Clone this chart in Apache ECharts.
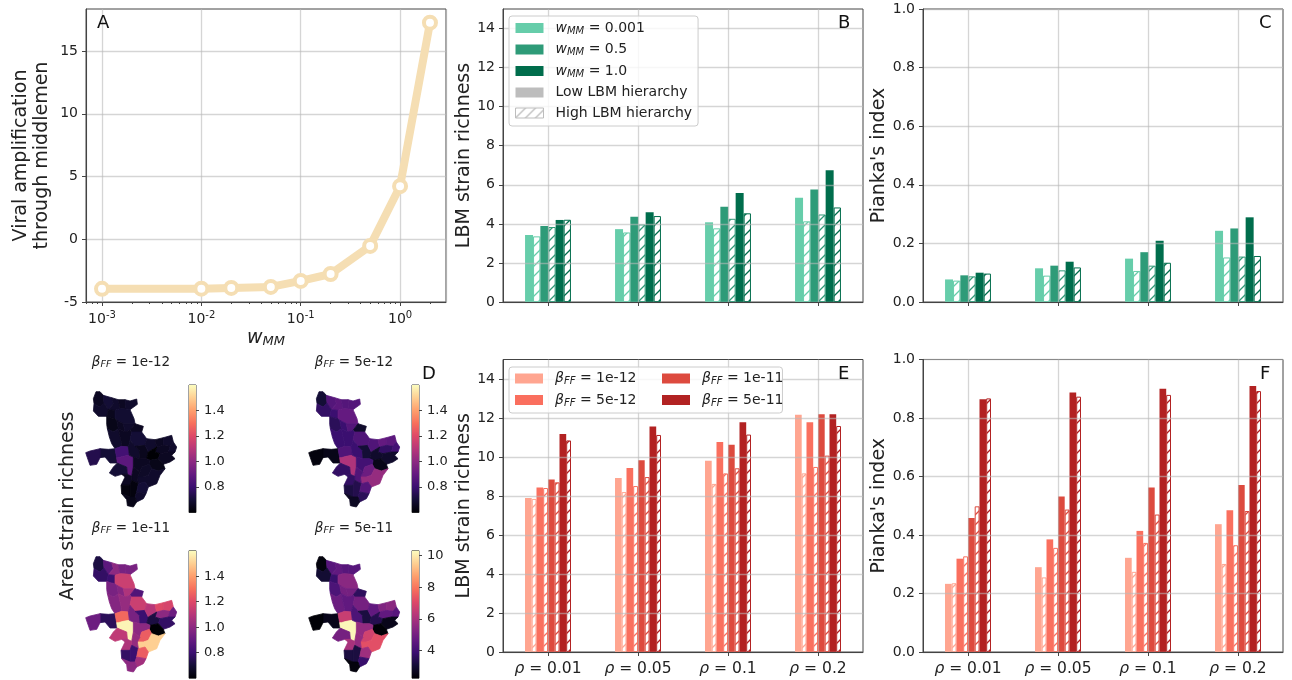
<!DOCTYPE html>
<html><head><meta charset="utf-8">
<style>html,body{margin:0;padding:0;background:#fff}#c{width:1292px;height:680px}</style>
<script src="https://cdn.jsdelivr.net/npm/echarts@6/dist/echarts.min.js"></script>
</head><body><div id="c"></div>
<script>
// ---------- data ----------
const wmmValues = [0.001,0.01,0.02,0.05,0.1,0.2,0.5,1,2];
const amplification = [-3.95,-3.94,-3.88,-3.8,-3.32,-2.77,-0.53,4.23,17.26];
const rhoLabels = ['0.01','0.05','0.1','0.2'];
const wmmNames = ['0.001','0.5','1.0'];
const betaNames = ['1e-12','5e-12','1e-11','5e-11'];

const richLow_B  = [[3.43,3.73,4.08,5.34],[3.89,4.37,4.88,5.76],[4.2,4.59,5.58,6.74]];
const richHigh_B = [[3.36,3.56,3.77,4.13],[3.84,3.97,4.26,4.48],[4.21,4.4,4.54,4.84]];
const piankaLow_C  = [[.077,.115,.148,.243],[.091,.124,.17,.251],[.1,.1375,.209,.289]];
const piankaHigh_C = [[.073,.09,.106,.152],[.0875,.108,.124,.155],[.097,.118,.134,.157]];
const richLow_E  = [[7.9,8.92,9.81,12.17],[8.43,9.44,10.77,11.78],[8.85,9.83,10.63,12.19],[11.18,11.57,11.78,12.19]];
const richHigh_E = [[7.85,8.2,8.62,9.16],[8.41,8.51,9.16,9.49],[8.7,8.97,9.42,10.07],[10.85,11.13,11.15,11.59]];
const piankaLow_F  = [[.233,.29,.322,.437],[.319,.385,.414,.485],[.458,.532,.562,.571],[.864,.887,.9,.909]];
const piankaHigh_F = [[.235,.255,.274,.301],[.327,.356,.373,.365],[.498,.487,.47,.482],[.867,.873,.879,.892]];

const greens = ['#66cdaa','#2e9b78','#006d4c'];
const reds = ['#ffa590','#fa6f5e','#dd4a3e','#b22222'];
const magma = ['#000004','#140e36','#3b0f70','#641a80','#8c2981','#b73779','#de4968','#f7705c','#fe9f6d','#fecf92','#fcfdbf'];

const ticksA = [-5,0,5,10,15];
const ticksRich = [0,2,4,6,8,10,12,14];
const ticksPianka = [0,.2,.4,.6,.8,1];
const ticksCb = [.8,1,1.2,1.4];
const ticksCb4 = [4,6,8,10];
const minorWmm = [.0007,.0008,.0009,.002,.003,.004,.005,.006,.007,.008,.009,.02,.03,.04,.05,.06,.07,.08,.09,.2,.3,.4,.5,.6,.7,.8,.9,2];

// District outlines of the study area (map geometry)
const districts = {
 r1:[[48,14],[60,14],[70,25],[72,48],[60,60],[42,50],[40,35]],
 r2:[[70,25],[95,32],[100,50],[85,68],[72,48]],
 r3:[[42,50],[60,60],[72,48],[85,68],[80,88],[55,88],[40,72]],
 r4:[[95,32],[115,38],[120,65],[105,70],[85,68],[100,50]],
 r5:[[115,38],[135,38],[138,66],[120,65]],
 r5b:[[135,38],[150,42],[170,36],[172,52],[158,62],[150,68],[138,66]],
 r6:[[85,68],[105,70],[105,95],[90,92],[80,88]],
 r7:[[105,70],[120,65],[138,66],[150,68],[162,95],[165,110],[130,110],[110,100],[105,95]],
 r8:[[80,112],[80,88],[90,92],[105,95],[110,100],[115,125],[100,135],[82,125]],
 r9:[[110,100],[130,110],[135,135],[115,125]],
 r10:[[130,110],[165,110],[150,130],[135,135]],
 r11:[[165,110],[190,118],[185,135],[155,135],[150,130]],
 r12:[[82,125],[100,135],[115,125],[120,150],[125,170],[125,178],[105,185],[95,170],[88,150]],
 r13:[[115,125],[135,135],[150,130],[155,135],[150,160],[145,180],[125,178],[125,170],[120,150]],
 r14:[[155,135],[185,135],[200,155],[195,175],[165,178],[150,160]],
 r16:[[60,185],[85,187],[105,185],[110,212],[112,228],[90,228],[75,210],[60,212]],
 r17:[[17,197],[30,192],[60,185],[60,212],[50,232],[30,235],[22,212]],
 r18:[[105,185],[125,178],[145,180],[148,205],[130,208],[115,212],[110,212]],
 r19:[[110,212],[115,212],[130,208],[148,205],[160,210],[160,240],[155,268],[142,262],[140,240],[120,232],[112,228]],
 r20:[[112,228],[120,232],[140,240],[142,262],[125,262],[105,268],[88,258],[100,240]],
 r21:[[145,180],[150,160],[165,178],[178,190],[180,215],[160,210],[148,205]],
 r22:[[165,178],[195,175],[205,195],[200,215],[180,215],[178,190]],
 r23:[[200,155],[225,158],[230,180],[205,195],[195,175]],
 r24:[[225,158],[250,152],[250,175],[230,180]],
 r25:[[250,152],[275,145],[280,165],[270,178],[250,175]],
 r26:[[230,180],[250,175],[270,178],[265,195],[240,200],[225,195]],
 r27:[[270,178],[280,165],[290,180],[285,195],[265,195]],
 r28:[[205,195],[230,180],[225,195],[240,200],[235,215],[210,220],[200,215]],
 r29:[[240,200],[265,195],[285,195],[275,205],[285,215],[270,225],[250,232],[235,215]],
 r30:[[210,220],[235,215],[250,232],[255,245],[235,252],[215,245],[208,232]],
 r31:[[160,210],[180,215],[200,215],[210,220],[208,232],[185,240],[180,255],[160,240]],
 r32a:[[180,255],[185,240],[208,232],[215,245],[205,265],[190,270],[172,270]],
 r32b:[[172,270],[190,270],[205,265],[215,245],[235,252],[255,245],[240,265],[230,290],[205,300],[195,285],[175,290]],
 r33:[[160,240],[180,255],[172,270],[175,290],[155,280],[155,268]],
 r34:[[135,270],[125,262],[142,262],[155,268],[155,280],[150,295],[123,295]],
 r35:[[123,295],[150,295],[150,330],[125,320]],
 r36:[[150,295],[155,280],[175,290],[170,315],[165,330],[150,330]],
 r37:[[175,290],[195,285],[205,300],[198,320],[170,315]],
 r38:[[170,315],[198,320],[190,335],[170,345],[165,330]],
 r39:[[125,320],[150,330],[165,330],[170,345],[160,360],[142,356],[140,338]]
};
const districtNames = ['r1','r2','r3','r4','r5','r5b','r6','r7','r8','r9','r10','r11','r12','r13','r14','r16','r17','r18','r19','r20','r21','r22','r23','r24','r25','r26','r27','r28','r29','r30','r31','r32a','r32b','r33','r34','r35','r36','r37','r38','r39'];
const area1 = [.66,.70,.68,.68,.66,.68,.65,.69,.64,.66,.68,.66,.68,.66,.70,.70,.74,.82,.88,.70,.68,.65,.68,.66,.68,.66,.68,.60,.66,.64,.66,.67,.68,.66,.66,.62,.62,.70,.68,.64];
const area2 = [.70,.86,.78,.88,.86,.86,.80,.90,.76,.80,.86,.68,.80,.80,.85,.64,.62,.85,1.08,.78,.80,.70,.85,.90,.88,.78,.82,.68,.68,.64,.82,.92,1.02,.85,.78,.72,.74,.86,.76,.66];
const area3 = [.72,.88,.78,1.0,.95,.95,.80,1.15,.95,.98,1.08,.85,.98,1.02,1.15,.76,.92,1.28,1.58,1.12,.95,.80,1.10,1.20,1.18,1.0,.92,.72,.78,.60,1.0,1.25,1.50,1.02,1.08,.78,.80,1.25,1.05,1.0];
const area4 = [2.4,4.4,3.0,4.6,4.4,4.4,3.8,5.4,4.2,5.0,5.0,3.6,4.8,4.6,5.0,2.6,2.3,6.6,10.2,5.0,4.2,3.2,4.6,5.2,5.4,4.6,4.4,3.4,2.6,2.3,5.6,6.8,7.2,5.6,6.0,3.2,3.2,5.8,3.8,2.4];
const betaTitles = ['1e-12','5e-12','1e-11','5e-11'];

// ---------- helpers ----------
const FONT = '"DejaVu Sans"', INK = '#222', FRAME = '#444';
const GRIDC = 'rgba(185,185,185,0.6)';
function hatch(color){
  const s = 10, c = document.createElement('canvas'); c.width = c.height = s;
  const g = c.getContext('2d'); g.strokeStyle = color; g.lineWidth = 1.3;
  g.beginPath(); g.moveTo(-1,s+1); g.lineTo(s+1,-1);
  g.moveTo(-1,1); g.lineTo(1,-1); g.moveTo(s-1,s+1); g.lineTo(s+1,s-1); g.stroke();
  return {image:c, repeat:'repeat'};
}
const rich = {
  i:{fontFamily:FONT,fontStyle:'italic',fontSize:14,color:INK,lineHeight:16},
  s:{fontFamily:FONT,fontStyle:'italic',fontSize:10,color:INK,lineHeight:12,verticalAlign:'bottom'},
  t:{fontFamily:FONT,fontSize:14,color:INK,lineHeight:16}
};
const richX = {
  i:{fontFamily:FONT,fontStyle:'italic',fontSize:15.5,color:INK,lineHeight:18},
  t:{fontFamily:FONT,fontSize:15.5,color:INK,lineHeight:18}
};
const wLabel = n => `{i|w}{s|MM}{t| = ${n}}`;
const bLabel = n => `{i|β}{s|FF}{t| = ${n}}`;
const legendFmt = name => name.startsWith('wMM ') ? wLabel(name.slice(4)) : name.startsWith('bFF ') ? bLabel(name.slice(4)) : `{t|${name}}`;

const L = [86,503,923,503,923], T = [9,9,9,359.5,359.5], H = [293,293,293,292.5,292.5];
const grid = [], xAxis = [], yAxis = [], series = [], visualMap = [];
L.forEach((l,i)=>grid.push({left:l,top:T[i],width:360,height:H[i],show:true,borderColor:FRAME,borderWidth:1,backgroundColor:'transparent',z:0}));

const baseAxis = {axisLine:{show:true,onZero:false,lineStyle:{color:FRAME,width:1}},axisTick:{show:true,length:4,lineStyle:{color:FRAME}},
  axisLabel:{fontFamily:FONT,fontSize:14,color:INK},splitLine:{show:true,lineStyle:{color:GRIDC,width:1.3}}};

// ---------- map panels (series 0-3) ----------
const featureCollection = {type:'FeatureCollection',features:districtNames.map(n=>({type:'Feature',properties:{name:n},
  geometry:{type:'Polygon',coordinates:[districts[n].concat([districts[n][0]]).map(p=>[p[0],-p[1]])]}}))};
const mapLeft=[85.7,308.7,85.7,308.7], mapTop=[391.7,391.7,556.7,556.7];
const areaVals=[area1,area2,area3,area4], cbMin=[.6,.6,.6,2.25], cbMax=[1.6,1.6,1.6,10.3];
areaVals.forEach((vals,i)=>{
  echarts.registerMap('districts'+i,JSON.parse(JSON.stringify(featureCollection)));
  series.push({type:'map',map:'districts'+i,aspectScale:1,left:mapLeft[i],top:mapTop[i],width:91,height:115.3,silent:true,roam:false,
    showLegendSymbol:false,label:{show:false},emphasis:{disabled:true},select:{disabled:true},
    data:districtNames.map((n,k)=>({name:n,value:vals[k],
      itemStyle:{borderColor:echarts.color.lerp((vals[k]-cbMin[i])/(cbMax[i]-cbMin[i]),magma),borderWidth:0.8}}))});
  visualMap.push({show:false,type:'continuous',seriesIndex:i,min:cbMin[i],max:cbMax[i],inRange:{color:magma}});
});

// ---------- panel A ----------
xAxis.push({...baseAxis,type:'log',logBase:10,gridIndex:0,min:0.00069,max:2.9,z:0,
  axisLabel:{...baseAxis.axisLabel,showMinLabel:false,showMaxLabel:false,
    formatter:v=>`{b|10}{e|${Math.round(Math.log10(v))}}`,
    rich:{b:{fontFamily:FONT,fontSize:14,color:INK,lineHeight:18},e:{fontFamily:FONT,fontSize:10,color:INK,lineHeight:12,verticalAlign:'top'}}},
  name:'{i|w}{s|MM}',nameLocation:'middle',nameGap:26,
  nameTextStyle:{rich:{i:{fontFamily:FONT,fontStyle:'italic',fontSize:19,color:INK,lineHeight:20},s:{fontFamily:FONT,fontStyle:'italic',fontSize:13,color:INK,lineHeight:14,verticalAlign:'bottom'}}}});
yAxis.push({...baseAxis,type:'value',gridIndex:0,min:-5,max:18.35,z:0,
  axisLabel:{...baseAxis.axisLabel,customValues:ticksA},axisTick:{...baseAxis.axisTick,customValues:ticksA},
  name:'Viral amplification\nthrough middlemen',nameLocation:'middle',nameGap:33,
  nameTextStyle:{fontFamily:FONT,fontSize:19,color:INK,lineHeight:21}});
series.push({type:'line',name:'amplification',xAxisIndex:0,yAxisIndex:0,symbol:'circle',symbolSize:12,showAllSymbol:true,
  lineStyle:{color:'#f5deb3',width:8},itemStyle:{color:'#fff',borderColor:'#f5deb3',borderWidth:4},
  data:wmmValues.map((x,k)=>[x,amplification[k]]),silent:true,z:3});

// ---------- bar panels ----------
function barPanel(idx,low,high,colors,names,prefix,ymax,ticks,yname,solidW,hatchW,showX){
  const g = idx+1;
  xAxis.push({...baseAxis,type:'category',gridIndex:g,boundaryGap:true,z:3,data:rhoLabels,
    axisTick:{...baseAxis.axisTick,alignWithLabel:true},
    splitLine:{show:true,alignWithLabel:true,lineStyle:{color:GRIDC,width:1.3}},
    axisLabel:{...baseAxis.axisLabel,show:showX,interval:0,margin:8,formatter:v=>`{i|ρ}{t| = ${v}}`,rich:richX}});
  yAxis.push({...baseAxis,type:'value',gridIndex:g,min:0,max:ymax,z:3,
    axisLabel:{...baseAxis.axisLabel,customValues:ticks,formatter:v=>ymax===1?v.toFixed(1):String(v)},
    axisTick:{...baseAxis.axisTick,customValues:ticks},
    name:yname,nameLocation:'middle',nameGap:ymax===1?34:28,
    nameTextStyle:{fontFamily:FONT,fontSize:19,color:INK}});
  colors.forEach((col,k)=>{
    series.push({type:'bar',name:prefix+names[k],xAxisIndex:g,yAxisIndex:g,barWidth:solidW,barGap:0,silent:true,z:2,
      itemStyle:{color:col},data:low[k]});
    series.push({type:'bar',name:prefix+names[k]+' high',xAxisIndex:g,yAxisIndex:g,barWidth:hatchW,barGap:0,silent:true,z:2,
      itemStyle:{color:hatch(col),borderColor:col,borderWidth:1},data:high[k]});
  });
}
barPanel(0,richLow_B,richHigh_B,greens,wmmNames,'wMM ',15,ticksRich,'LBM strain richness',8,7.3,false);
barPanel(1,piankaLow_C,piankaHigh_C,greens,wmmNames,'wMMc ',1,ticksPianka,"Pianka's index",8,7.3,false);
barPanel(2,richLow_E,richHigh_E,reds,betaNames,'bFF ',15,ticksRich,'LBM strain richness',6.7,4.8,true);
barPanel(3,piankaLow_F,piankaHigh_F,reds,betaNames,'bFFf ',1,ticksPianka,"Pianka's index",6.7,4.8,true);
// legend-only entries
series.push({type:'line',name:'Low LBM hierarchy',xAxisIndex:1,yAxisIndex:1,data:[]});
series.push({type:'line',name:'High LBM hierarchy',xAxisIndex:1,yAxisIndex:1,data:[]});

// ---------- colour bars ----------
const cbLeft=[189,412,189,412], cbTop=[385,385,550.7,550.7];
const magmaStops = magma.map((c,k)=>({offset:k/(magma.length-1),color:c}));
cbLeft.forEach((l,i)=>{
  const g = grid.length;
  const tk = i===3?ticksCb4:ticksCb;
  grid.push({left:l,top:cbTop[i],width:7,height:127.5,show:true,borderColor:FRAME,borderWidth:1,backgroundColor:'transparent'});
  xAxis.push({type:'category',gridIndex:g,data:['c'],show:false});
  yAxis.push({type:'value',gridIndex:g,position:'right',min:cbMin[i],max:cbMax[i],
    axisLine:{show:false},splitLine:{show:false},
    axisTick:{show:true,length:3,lineStyle:{color:FRAME},customValues:tk},
    axisLabel:{fontFamily:FONT,fontSize:13,color:INK,margin:8,customValues:tk,formatter:v=>i===3?String(v):v.toFixed(1)}});
  series.push({type:'bar',xAxisIndex:g,yAxisIndex:g,barWidth:'100%',silent:true,
    itemStyle:{color:{type:'linear',x:0,y:1,x2:0,y2:0,colorStops:magmaStops}},data:[cbMax[i]]});
});

// minor ticks of panel A
xAxis.push({type:'log',logBase:10,gridIndex:0,min:0.00069,max:2.9,position:'bottom',axisLine:{show:false,onZero:false},splitLine:{show:false},
  axisLabel:{show:false},axisTick:{show:true,length:2,lineStyle:{color:FRAME},customValues:minorWmm}});

// ---------- text ----------
const letters=[['A',97,14],['B',838,14],['C',1259,14],['D',422,365],['E',838,365],['F',1260,365]];
const title = letters.map(a=>({text:a[0],left:a[1],top:a[2],padding:0,textStyle:{fontFamily:FONT,fontSize:18,fontWeight:'normal',color:'#111'}}));
const titleRich = {i:{fontFamily:FONT,fontStyle:'italic',fontWeight:'normal',fontSize:13.5,color:INK,lineHeight:15},s:{fontFamily:FONT,fontStyle:'italic',fontWeight:'normal',fontSize:9.5,color:INK,lineHeight:11,verticalAlign:'bottom'},t:{fontFamily:FONT,fontWeight:'normal',fontSize:13.5,color:INK,lineHeight:15}};
const titleX=[131,354,131,354], titleY=[355,355,521,521];
betaTitles.forEach((b,i)=>title.push({text:bLabel(b),left:titleX[i],top:titleY[i],textAlign:'center',padding:0,textStyle:{fontWeight:'normal',rich:titleRich}}));

// ---------- legends ----------
const legendBase = {orient:'vertical',selectedMode:false,itemWidth:28,itemHeight:10,icon:'rect',backgroundColor:'rgba(255,255,255,0.8)',borderColor:'#ccc',borderWidth:1,borderRadius:3,
  formatter:legendFmt,textStyle:{padding:[0,0,0,7],rich:rich},z:6};
const legend = [
 {...legendBase,left:509,top:16,itemGap:6.5,padding:[5,6,6,6],
  data:[...wmmNames.map((n,k)=>({name:'wMM '+n,itemStyle:{color:greens[k]}})),
    {name:'Low LBM hierarchy',itemStyle:{color:'#bdbdbd'}},
    {name:'High LBM hierarchy',itemStyle:{color:hatch('#bdbdbd'),borderColor:'#bdbdbd',borderWidth:1}}]},
 {...legendBase,left:509,top:367,itemGap:6.5,padding:[4.5,146,5,6],
  data:[0,1].map(k=>({name:'bFF '+betaNames[k],itemStyle:{color:reds[k]}}))},
 {...legendBase,left:662,top:371.5,itemGap:6.5,padding:0,backgroundColor:'transparent',borderWidth:0,z:7,
  data:[2,3].map(k=>({name:'bFF '+betaNames[k],itemStyle:{color:reds[k]}}))}
];

const chart = echarts.init(document.getElementById('c'),null,{renderer:'canvas'});
chart.setOption({animation:false,backgroundColor:'#fff',title,legend,grid,xAxis,yAxis,series,visualMap,
  graphic:[{type:'text',x:68,y:506,rotation:Math.PI/2,style:{text:'Area strain richness',fontFamily:FONT,fontSize:19,fill:INK,align:'center',verticalAlign:'middle'}}]});
</script></body></html>
